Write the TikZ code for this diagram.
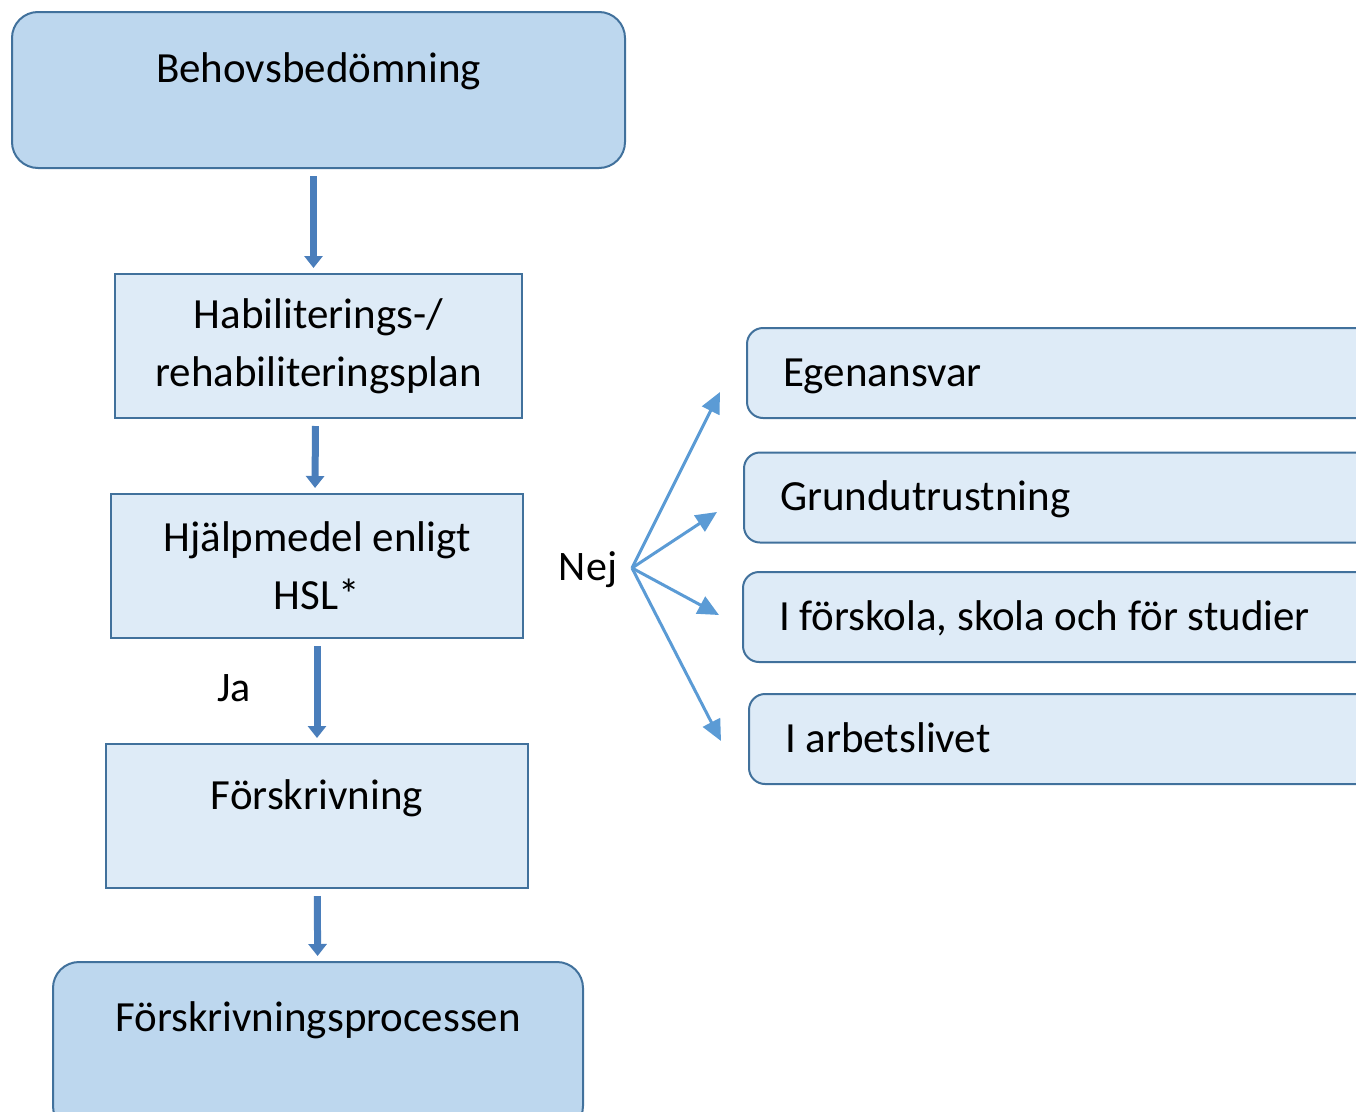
\documentclass[tikz,border=0pt]{standalone}
\usepackage{fontspec}
\setmainfont{Carlito}
\usetikzlibrary{positioning,arrows.meta}
\definecolor{boxdark}{HTML}{BDD7EE}
\definecolor{boxlight}{HTML}{DEEBF7}
\definecolor{boxline}{HTML}{41719C}
\definecolor{arrowblue}{HTML}{4A7EBB}
\definecolor{fanblue}{HTML}{5B9BD5}

\begin{document}
\begin{tikzpicture}[
  x=1pt, y=-1pt,
  plainbox/.style={draw=boxline, line width=2pt, fill=boxlight, align=center,
    inner sep=0pt, font=\fontsize{43}{58}\selectfont},
  roundbox/.style={plainbox, fill=boxdark, rounded corners=26pt},
  sidebox/.style={plainbox, rounded corners=16pt, align=flush left, inner xsep=36pt,
    minimum height=90pt, text height=30pt, text depth=4pt,
    font=\fontsize{43}{48}\selectfont},
  toptext/.style={text height=30pt, text depth=#1},
  lbl/.style={font=\fontsize{42}{48}\selectfont},
  down/.style={-{Triangle[width=18pt,length=12pt]}, line width=7pt,
    color=arrowblue, shorten <=7pt, shorten >=5pt},
  fan/.style={-{Triangle[width=19pt,length=21pt]}, line width=3pt, color=fanblue}
  ]
  \useasboundingbox (0,0) rectangle (1356,1111);
  \clip (0,0) rectangle (1356,1111);

  % main column
  \node[roundbox, toptext=46pt, minimum width=613pt, minimum height=156pt]
    (beh) at (318.5,90) {Behovsbedömning};
  \node[plainbox, minimum width=407pt, minimum height=144pt]
    (hab) at (318.5,346) {Habiliterings-/\\rehabiliteringsplan};
  \node[plainbox, minimum width=412pt, minimum height=144pt]
    (hjm) at (317,566) {Hjälpmedel enligt\\HSL*};
  \node[plainbox, toptext=44pt, minimum width=422pt, minimum height=144pt]
    (frs) at (317,816) {Förskrivning};
  \node[roundbox, toptext=62pt, minimum width=530pt, minimum height=170pt]
    (proc) at (318,1047) {Förskrivningsprocessen};

  \node[lbl] (ja) at (234,688) {Ja};
  \node[lbl] (nej) at (588,570) {Nej};

  % right column
  \node[sidebox, anchor=west, minimum width=640pt, text width=568pt]
    (egen) at (746,373) {Egenansvar};
  \node[sidebox, anchor=west, minimum width=640pt, text width=568pt]
    (grund) at (743,497.5) {Grundutrustning};
  \node[sidebox, anchor=west, minimum width=640pt, text width=568pt]
    (skola) at (742,617) {I förskola, skola och för studier};
  \node[sidebox, anchor=west, minimum width=640pt, text width=568pt]
    (arb) at (748,739) {I arbetslivet};

  \coordinate (f0) at (632,568);
  \coordinate (f1) at (720,392);
  \coordinate (f2) at (717,512);
  \coordinate (f3) at (719,615);
  \coordinate (f4) at (721,741);

  \path
  ([xshift=-5pt]beh.south) edge[down] ([xshift=-5pt]hab.north)
  ([xshift=-3pt]hab.south) edge[down] ([xshift=-2pt]hjm.north)
  (hjm) edge[down] (frs)
  (frs) edge[down] (proc);

  \path
  (f0) edge[fan] (f1)
  (f0) edge[fan] (f2)
  (f0) edge[fan] (f3)
  (f0) edge[fan] (f4);
\end{tikzpicture}
\end{document}
